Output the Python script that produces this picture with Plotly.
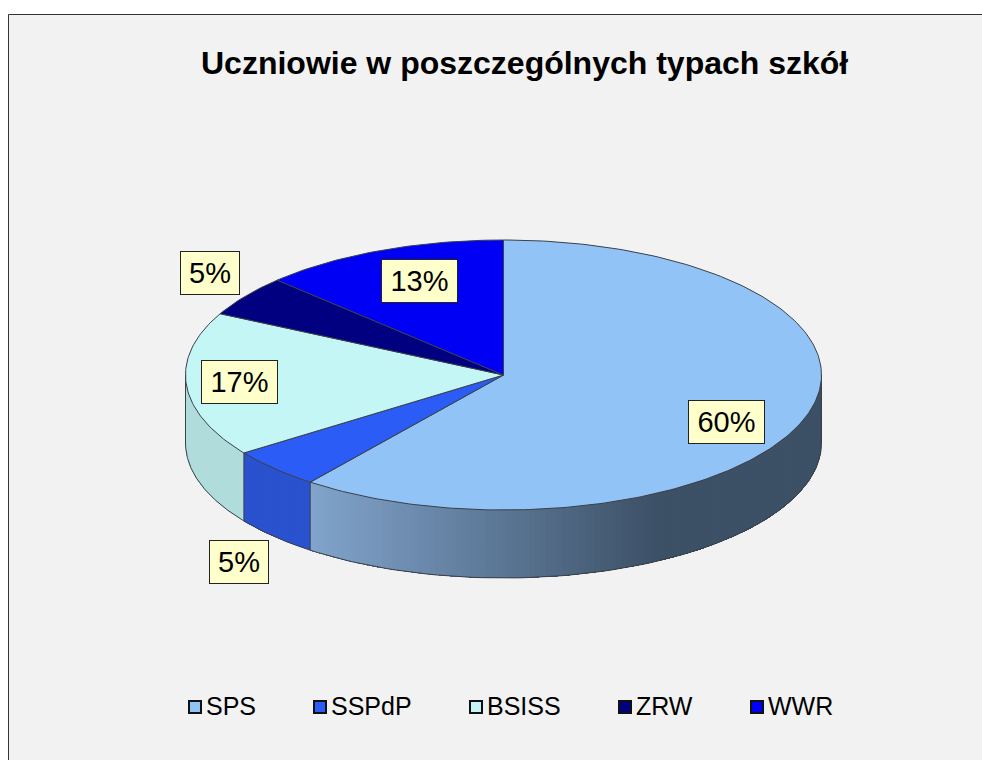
import math
import plotly.graph_objects as go

# ---- data ----
categories = ["SPS", "SSPdP", "BSISS", "ZRW", "WWR"]
shares = [60.4, 4.8, 17.3, 4.9, 12.6]
labels = ["60%", "5%", "17%", "5%", "13%"]
title_text = "Uczniowie w poszczególnych typach szkół"

# ---- style ----
top_colors = ["#92c3f6", "#2b5cf5", "#c4f6f6", "#000080", "#0000f5"]
side_colors = ["#82a5cd", "#2a52cf", "#b0dcdc", "#000060", "#0000c0"]
side_dark = [(60, 80, 102), (42, 82, 207), (176, 220, 220), (0, 0, 96), (0, 0, 192)]
edge = "#3a3f48"
cx, cy, rx, ry, depth = 503.5, 375.0, 318.0, 135.0, 68.0
label_xy = [(726.5, 422), (239, 562), (239.5, 382), (209.5, 272.5), (419, 280.5)]
legend_x = [195, 320, 476, 625, 757]
legend_y = 707


def pt(theta_deg, drop=0.0):
    t = math.radians(theta_deg)
    return cx + rx * math.sin(t), cy - ry * math.cos(t) + drop


def hexrgb(h):
    return tuple(int(h[i:i + 2], 16) for i in (1, 3, 5))


fig = go.Figure()

# cumulative slice angles, clockwise from 12 o'clock
total = sum(shares)
edges = [0.0]
for s in shares:
    edges.append(edges[-1] + s / total * 360)

# side wall: each strip runs to the slice end, so a later strip always lies
# over an earlier one and no seam can show
for i in range(len(shares)):
    a0, a1 = max(edges[i], 90), min(edges[i + 1], 270)
    if a1 <= a0:
        continue
    n = max(2, int((a1 - a0) / 1.0))
    step = (a1 - a0) / n
    for k in range(n):
        s0 = a0 + k * step
        xm = pt(s0 + step / 2)[0]
        f = min(1, max(0, (xm - 310) / 350)) if i == 0 else 0
        c0, c1 = hexrgb(side_colors[i]), side_dark[i]
        col = "rgb(%d,%d,%d)" % tuple(c0[j] + (c1[j] - c0[j]) * f for j in range(3))
        m = max(3, int(a1 - s0))
        arc = [s0 + (a1 - s0) * q / m for q in range(m + 1)]
        xy = [pt(a) for a in arc] + [pt(a, depth) for a in reversed(arc)]
        fig.add_trace(go.Scatter(x=[p[0] for p in xy], y=[p[1] for p in xy], mode="lines",
                                 fill="toself", fillcolor=col, line=dict(width=0),
                                 hoverinfo="skip", showlegend=False))
    # wall outline for this slice
    arc = [a0 + (a1 - a0) * q / 80 for q in range(81)]
    low = [pt(a, depth) for a in arc]
    fig.add_trace(go.Scatter(x=[pt(a0)[0], pt(a0, depth)[0]] + [p[0] for p in low] + [pt(a1)[0]],
                             y=[pt(a0)[1], pt(a0, depth)[1]] + [p[1] for p in low] + [pt(a1, depth)[1] if a1 < 270 else pt(a1)[1]],
                             mode="lines", line=dict(color=edge, width=1),
                             hoverinfo="skip", showlegend=False))

# right-hand vertical edge of the wall
fig.add_trace(go.Scatter(x=[pt(90)[0], pt(90, depth)[0]], y=[pt(90)[1], pt(90, depth)[1]],
                         mode="lines", line=dict(color=edge, width=1), hoverinfo="skip", showlegend=False))

# top faces
for i in range(len(shares)):
    a0, a1 = edges[i], edges[i + 1]
    n = max(8, int(a1 - a0))
    arc = [pt(a0 + (a1 - a0) * q / n) for q in range(n + 1)]
    xs = [cx] + [p[0] for p in arc] + [cx]
    ys = [cy] + [p[1] for p in arc] + [cy]
    fig.add_trace(go.Scatter(x=xs, y=ys, mode="lines", fill="toself", fillcolor=top_colors[i],
                             line=dict(color=edge, width=1), hoverinfo="skip", showlegend=False))

# legend
fig.add_trace(go.Scatter(x=legend_x, y=[legend_y] * len(categories), mode="markers",
                         marker=dict(symbol="square", size=12, color=top_colors,
                                     line=dict(color="#111111", width=2)),
                         hoverinfo="skip", showlegend=False))
fig.add_trace(go.Scatter(x=[v + 11 for v in legend_x], y=[legend_y + 1.5] * len(categories), mode="text",
                         text=categories, textposition="middle right",
                         textfont=dict(family="Liberation Sans", size=25, color="#000000"),
                         hoverinfo="skip", showlegend=False))

# data labels
annotations = []
for (lx, ly), txt in zip(label_xy, labels):
    annotations.append(dict(x=lx, y=ly, xref="x", yref="y", text=txt, showarrow=False,
                            font=dict(family="Liberation Sans", size=29, color="#000000"),
                            bgcolor="#ffffcc", bordercolor="#222222", borderwidth=1,
                            width=56 if len(txt) == 2 else 73, height=40, xanchor="center", yanchor="middle"))
annotations.append(dict(x=524, y=63, xref="x", yref="y", text="<b>%s</b>" % title_text, showarrow=False,
                        font=dict(family="Liberation Sans", size=32, color="#000000"),
                        xanchor="center", yanchor="middle"))

fig.update_layout(
    width=982, height=760, autosize=False,
    margin=dict(l=0, r=0, t=0, b=0), paper_bgcolor="#ffffff", plot_bgcolor="#ffffff",
    showlegend=False, annotations=annotations,
    xaxis=dict(range=[0, 982], visible=False, fixedrange=True),
    yaxis=dict(range=[760, 0], visible=False, fixedrange=True),
    shapes=[dict(type="rect", xref="x", yref="y", x0=8.5, y0=14.5, x1=990, y1=770, layer="below",
                 fillcolor="#f2f2f2", line=dict(color="#333333", width=1))],
)
fig.write_html("out.html", config={"displayModeBar": False},
               post_script="document.body.style.margin='0';document.documentElement.style.overflow='hidden';")
